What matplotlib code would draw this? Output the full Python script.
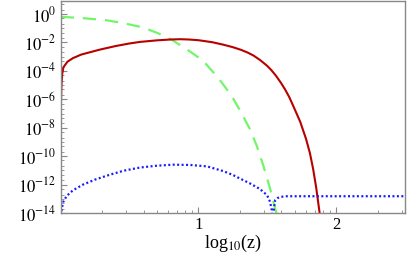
import numpy as np
import matplotlib
matplotlib.use('Agg')
import matplotlib.pyplot as plt
from matplotlib.ticker import FixedLocator, NullFormatter, LogLocator

plt.rcParams['font.family'] = ['Liberation Serif', 'DejaVu Serif']
plt.rcParams['mathtext.fontset'] = 'stix'

# values: x = log10(z), y = log10(value)
green_x = [0.0, 0.175, 0.32, 0.44, 0.574, 0.64, 0.707, 0.816, 0.94, 1.0, 1.049,
           1.145, 1.243, 1.303, 1.375, 1.424, 1.472, 1.521, 1.557, 1.6]
green_y = [-0.19, -0.30, -0.42, -0.61, -0.89, -1.10, -1.35, -1.86, -2.64, -3.05, -3.45,
           -4.50, -5.78, -6.80, -8.11, -9.28, -10.68, -12.3, -13.7, -15.0]

red_x = [0.0, 0.002, 0.006, 0.012, 0.02, 0.05, 0.09, 0.15, 0.22, 0.286, 0.40,
         0.50, 0.577, 0.70, 0.80, 0.867, 0.93, 1.0, 1.1, 1.179, 1.25, 1.31, 1.36, 1.40,
         1.45, 1.50, 1.53, 1.564, 1.60, 1.629, 1.66, 1.688, 1.74, 1.782, 1.81, 1.833,
         1.855, 1.876, 1.9]
red_y = [-9.0, -6.5, -5.0, -4.2, -3.75, -3.35, -3.1, -2.85, -2.67, -2.5, -2.25,
         -2.07, -1.96, -1.85, -1.79, -1.77, -1.79, -1.84, -1.98, -2.15, -2.33, -2.52, -2.72, -2.92,
         -3.25, -3.65, -3.95, -4.35, -4.85, -5.3, -5.85, -6.45, -7.6, -8.8, -9.8, -10.9,
         -12.2, -13.7, -15.5]

blue_x = [0.0, 0.008, 0.02, 0.044, 0.09, 0.163, 0.25, 0.359, 0.46, 0.577, 0.70,
          0.816, 0.94, 1.063, 1.18, 1.25, 1.303, 1.375, 1.448, 1.499, 1.52, 1.533, 1.54,
          1.547, 1.557, 1.575, 1.593, 1.644, 2.5]
blue_y = [-14.5, -13.7, -13.2, -12.8, -12.4, -12.0, -11.65, -11.3, -11.02, -10.8, -10.67,
          -10.6, -10.62, -10.72, -11.05, -11.32, -11.58, -11.92, -12.32, -12.75, -13.2, -13.8, -15.0,
          -13.8, -13.1, -12.95, -12.87, -12.82, -12.82]

fig = plt.figure(figsize=(4.16, 2.57), dpi=100)
ax = fig.add_axes([0.1457, 0.1712, 0.8279, 0.8250])

def pw(a):
    return 10.0 ** np.array(a)

ax.plot(pw(green_x), pw(green_y), color='#73f56a', lw=1.6, dashes=(6, 4))
ax.plot(pw(red_x), pw(red_y), color='#b80000', lw=1.5)
ax.plot(pw(blue_x), pw(blue_y), color='#1a1aff', lw=1.6, linestyle=(0, (0.9, 1.1)))

ax.set_xscale('log')
ax.set_yscale('log')
ax.set_xlim(1, 10 ** 2.5)
ax.set_ylim(1e-14, 10 ** 0.92)

ax.xaxis.set_major_locator(FixedLocator([10, 100]))
ax.set_xticklabels(['1', '2'])
ax.xaxis.set_minor_locator(LogLocator(base=10, subs=np.arange(2, 10)))
ax.xaxis.set_minor_formatter(NullFormatter())

ymaj = [10.0 ** k for k in range(-14, 1, 2)]
ax.yaxis.set_major_locator(FixedLocator(ymaj))
ax.set_yticklabels([r'$10^{%d}$' % k for k in range(-14, 1, 2)])
ymin = [m * 10.0 ** k for k in range(-14, 1) for m in (1, 2, 5)]
ax.yaxis.set_minor_locator(FixedLocator([v for v in ymin if v not in ymaj]))
ax.yaxis.set_minor_formatter(NullFormatter())

for s in ax.spines.values():
    s.set_color('#888888')
    s.set_linewidth(1.0)
ax.tick_params(which='both', direction='in', color='#888888', top=False, right=False)
ax.tick_params(which='major', length=4, labelsize=12, pad=3)
ax.tick_params(which='minor', length=2)

ax.set_xlabel(r'log$_{10}$(z)', fontsize=13, labelpad=0)

fig.savefig('out.png', dpi=100, facecolor='white')
